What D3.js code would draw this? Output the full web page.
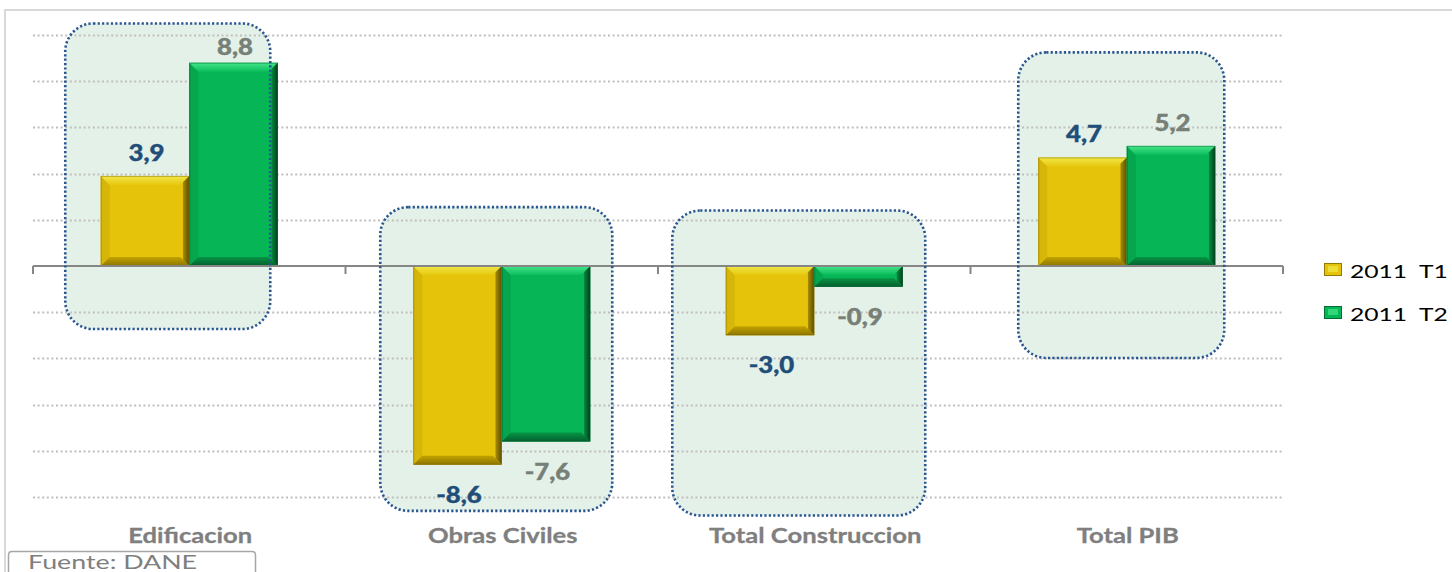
<!DOCTYPE html>
<html><head><meta charset="utf-8">
<script src="https://cdn.jsdelivr.net/npm/d3@7"></script>
<style>body{margin:0;background:#fff}</style>
</head><body><svg id="c" width="1452" height="572"></svg>
<script>
// ---------- data ----------
const categories = ["Edificacion", "Obras Civiles", "Total Construccion", "Total PIB"];
const seriesNames = ["2011  T1", "2011  T2"];
const seriesT1 = [3.9, -8.6, -3.0, 4.7];
const seriesT2 = [8.8, -7.6, -0.9, 5.2];
const gridTicks = [-10, -8, -6, -4, -2, 0, 2, 4, 6, 8, 10];
const sourceText = "Fuente: DANE";
// highlighted groups (value range covered by each rounded box)
const boxTopValues = [10.5, 2.55, 2.4, 9.25];
const boxBottomValues = [-2.73, -10.6, -10.8, -3.98];

// ---------- layout / style ----------
const W = 1452, H = 572;
const plot = {left: 33, right: 1283, top: 35, bottom: 497};
const boxLeftOff = [-124, -121.5, -142, -108.5];
const boxRightOff = [81, 110.5, 111, 97.5];
const stretch = 1.24;   // reference text is horizontally stretched
const palettes = [
  {main: "#e5c30b", top1: "#f1e848", top2: "#e7c80f", left: "#d6b608", right1: "#a88c00", right2: "#5c4d00", bot1: "#c2a300", bot2: "#8d7500", edge: "#7a6500"},
  {main: "#06b556", top1: "#45e68a", top2: "#0bbd5c", left: "#05a64e", right1: "#058a40", right2: "#023d1c", bot1: "#069446", bot2: "#045f2c", edge: "#03582a"}
];
const labelColors = ["#1f4e79", "#768076"];

const svg = d3.select("#c");
const defs = svg.append("defs");

const x = d3.scaleBand().domain(categories).range([plot.left, plot.right]).paddingInner(0).paddingOuter(0);
const xs = d3.scaleBand().domain(seriesNames).range([0, x.bandwidth()]).paddingInner(0).paddingOuter(0.765);
const y = d3.scaleLinear().domain([-10, 10]).range([plot.bottom, plot.top]);

// gradients
palettes.forEach((p, i) => {
  const mk = (id, x1, y1, x2, y2, c1, c2) => {
    const g = defs.append("linearGradient").attr("id", id + i)
      .attr("x1", x1).attr("y1", y1).attr("x2", x2).attr("y2", y2);
    g.append("stop").attr("offset", "0%").attr("stop-color", c1);
    g.append("stop").attr("offset", "100%").attr("stop-color", c2);
  };
  mk("gTop", 0, 0, 0, 1, p.top1, p.top2);
  mk("gRight", 0, 0, 1, 0, p.right1, p.right2);
  mk("gBot", 0, 0, 0, 1, p.bot1, p.bot2);
});

// outer frame
svg.append("path").attr("d", `M5,${H} L5,10 L${W},10`).attr("fill", "none")
  .attr("stroke", "#d9d9d9").attr("stroke-width", 2);

// highlight box fills
const boxes = categories.map((c, i) => {
  const cx = x(c) + x.bandwidth() / 2;
  return {x0: cx + boxLeftOff[i], x1: cx + boxRightOff[i], y0: y(boxTopValues[i]), y1: y(boxBottomValues[i])};
});
svg.append("g").selectAll("rect").data(boxes).join("rect")
  .attr("x", d => d.x0).attr("y", d => d.y0)
  .attr("width", d => d.x1 - d.x0).attr("height", d => d.y1 - d.y0)
  .attr("rx", 28).attr("ry", 28).attr("fill", "#e4f1e8");

// gridlines
svg.append("g").selectAll("line").data(gridTicks.filter(v => v !== 0)).join("line")
  .attr("x1", plot.left).attr("x2", plot.right)
  .attr("y1", d => Math.round(y(d)) + 0.5).attr("y2", d => Math.round(y(d)) + 0.5)
  .attr("stroke", "#bfbfbf").attr("stroke-width", 2).attr("stroke-dasharray", "2,2.6");

// bars
function bevelBar(g, bx, by, w, h, i) {
  const p = palettes[i];
  const b = Math.min(9, h / 2.4);
  g.append("rect").attr("x", bx).attr("y", by).attr("width", w).attr("height", h).attr("fill", p.main);
  const poly = (pts, fill) => g.append("polygon").attr("points", pts.map(q => q.join(",")).join(" ")).attr("fill", fill);
  poly([[bx, by], [bx + b, by + b], [bx + b, by + h - b], [bx, by + h]], p.left);
  poly([[bx, by + h], [bx + w, by + h], [bx + w - b, by + h - b], [bx + b, by + h - b]], `url(#gBot${i})`);
  poly([[bx, by], [bx + w, by], [bx + w - b, by + b], [bx + b, by + b]], `url(#gTop${i})`);
  poly([[bx + w, by], [bx + w - b * 0.7, by + b * 0.7], [bx + w - b * 0.7, by + h - b * 0.7], [bx + w, by + h]], `url(#gRight${i})`);
  g.append("rect").attr("x", bx + 0.5).attr("y", by + 0.5).attr("width", w - 1).attr("height", h - 1)
    .attr("fill", "none").attr("stroke", p.edge).attr("stroke-opacity", 0.45).attr("stroke-width", 1);
}

const allSeries = [seriesT1, seriesT2];
const barG = svg.append("g");
allSeries.forEach((vals, si) => {
  vals.forEach((v, ci) => {
    const bx = x(categories[ci]) + xs(seriesNames[si]);
    const y0 = Math.min(y(v), y(0)), h = Math.abs(y(v) - y(0));
    bevelBar(barG, bx, y0, xs.bandwidth(), h, si);
  });
});

// zero axis
svg.append("line").attr("x1", plot.left).attr("x2", plot.right).attr("y1", y(0)).attr("y2", y(0))
  .attr("stroke", "#868686").attr("stroke-width", 2);
const tickXs = categories.map(c => x(c)).concat([x.range()[1]]);
svg.append("g").selectAll("line").data(tickXs).join("line")
  .attr("x1", d => d).attr("x2", d => d).attr("y1", y(0)).attr("y2", y(0) + 8)
  .attr("stroke", "#868686").attr("stroke-width", 2);

// box borders (on top)
svg.append("g").selectAll("rect").data(boxes).join("rect")
  .attr("x", d => d.x0).attr("y", d => d.y0)
  .attr("width", d => d.x1 - d.x0).attr("height", d => d.y1 - d.y0)
  .attr("rx", 28).attr("ry", 28).attr("fill", "none")
  .attr("stroke", "#2a5690").attr("stroke-width", 2.6).attr("stroke-dasharray", "2.2,2.2");

// text helper (horizontally stretched)
function sText(g, tx, ty, str, opts) {
  return g.append("text")
    .attr("transform", `translate(${tx},${ty}) scale(${opts.sx || stretch},1)`)
    .attr("text-anchor", opts.anchor || "middle")
    .attr("font-family", "Lato, 'Open Sans', sans-serif")
    .attr("font-size", opts.size).attr("font-weight", opts.weight || "normal")
    .attr("fill", opts.fill).text(str);
}
const fmt = v => d3.format(".1f")(v).replace(".", ",").replace("\u2212", "-");

// data labels
const labG = svg.append("g");
allSeries.forEach((vals, si) => {
  vals.forEach((v, ci) => {
    const cx = x(categories[ci]) + xs(seriesNames[si]) + xs.bandwidth() / 2;
    let by = v >= 0 ? y(v) - 15 : y(v) + 38;
    by = Math.max(by, plot.top + 20);
    sText(labG, cx + 1.5, by, fmt(v), {size: 22, weight: 900, fill: labelColors[si], sx: 1.17})
      .attr("stroke", labelColors[si]).attr("stroke-width", 0.4);
  });
});

// category labels
const catG = svg.append("g");
categories.forEach(c => {
  sText(catG, x(c) + x.bandwidth() / 2 + 1, 543, c, {size: 21, weight: "bold", fill: "#7f7f7f", sx: 1.22})
    .attr("stroke", "#7f7f7f").attr("stroke-width", 0.3);
});

// legend
const legG = svg.append("g");
seriesNames.forEach((s, i) => {
  const ly = 263 + i * 43;
  legG.append("rect").attr("x", 1324).attr("y", ly).attr("width", 18).attr("height", 13)
    .attr("fill", palettes[i].main);
  legG.append("rect").attr("x", 1328).attr("y", ly + 3).attr("width", 10).attr("height", 6)
    .attr("fill", palettes[i].top1).attr("opacity", 0.7);
  legG.append("rect").attr("x", 1324.5).attr("y", ly + 0.5).attr("width", 17).attr("height", 12)
    .attr("fill", "none").attr("stroke", palettes[i].right2).attr("stroke-opacity", 0.6);
  const t = sText(legG, 1350, ly + 15, s, {size: 17, fill: "#000", anchor: "start", sx: 1.45});
  t.attr("xml:space", "preserve").style("white-space", "pre");
});

// source box
svg.append("path").attr("d", "M8.5,573 L8.5,555 Q8.5,551.5 12,551.5 L252,551.5 Q255.5,551.5 255.5,555 L255.5,573")
  .attr("fill", "#fff").attr("stroke", "#a6a6a6").attr("stroke-width", 1.5);
sText(svg, 28, 569, sourceText, {size: 20, fill: "#7f7f7f", anchor: "start", sx: 1.34});
</script></body></html>
